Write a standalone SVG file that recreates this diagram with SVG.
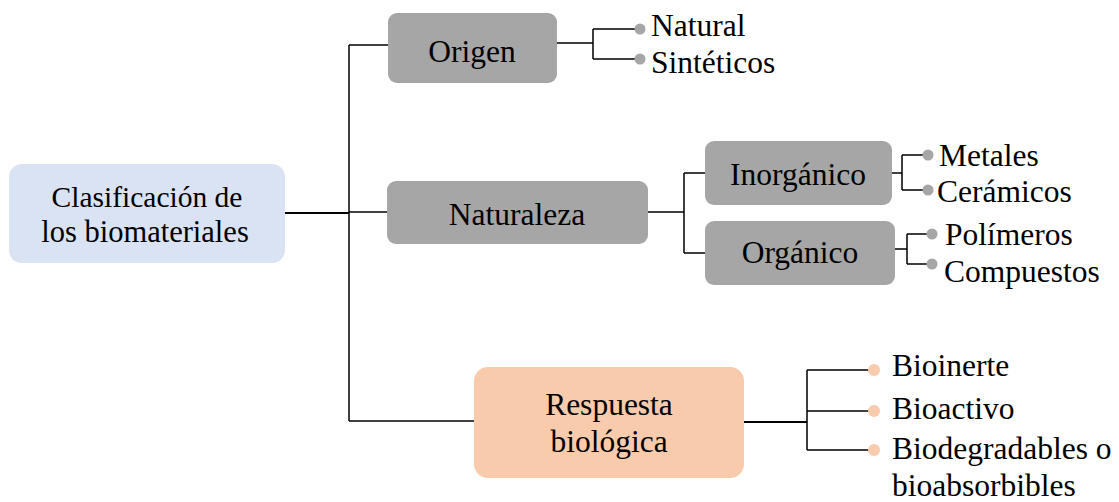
<svg xmlns="http://www.w3.org/2000/svg" width="1119" height="502" viewBox="0 0 1119 502">
<defs>
<style>
.c{text-anchor:middle}
.ln{fill:none;stroke:#000;stroke-width:1.5}
.th{stroke-width:2}
.gb{fill:#A6A6A6}
.gd{fill:#A6A6A6}
.od{fill:#F8CBAD}
</style>
</defs>
<rect width="1119" height="502" fill="#fff"/>
<g id="connectors">
<path class="ln" d="M349,45 V421"/>
<path class="ln th" d="M285,213 H349"/>
<path class="ln" d="M349,45 H388"/>
<path class="ln" d="M349,212 H387"/>
<path class="ln" d="M349,421 H474"/>
<path class="ln" d="M557,43 H593 M593,29 V59 M593,29 H640 M593,59 H640"/>
<path class="ln" d="M648,212 H684 M684,173 V253 M684,173 H705 M684,253 H705"/>
<path class="ln" d="M892,173 H902 M902,155 V190 M902,155 H928 M902,190 H928"/>
<path class="ln" d="M895,249 H907 M907,234 V264 M907,234 H932 M907,264 H932"/>
<path class="ln th" d="M744,422 H807"/>
<path class="ln" d="M807,370 V450 M807,370 H874 M807,411 H874 M807,450 H874"/>
</g>
<g id="root">
<rect x="9" y="164" width="276" height="99" rx="13" fill="#DAE3F3"/>
<text class="c" x="147" y="207" font-family="Liberation Serif" font-size="29.5">Clasificación de</text>
<text class="c" x="145" y="242" font-family="Liberation Serif" font-size="30.5">los biomateriales</text>
</g>
<g id="origen">
<rect class="gb" x="388" y="13" width="169" height="70" rx="9"/>
<text class="c" x="472" y="62" font-family="Liberation Serif" font-size="31.5">Origen</text>
</g>
<g id="natural">
<circle class="gd" cx="640" cy="29" r="5.5"/>
<text x="651" y="36" font-family="Liberation Serif" font-size="31.5">Natural</text>
</g>
<g id="sinteticos">
<circle class="gd" cx="640" cy="59" r="5.5"/>
<text x="651" y="73" font-family="Liberation Serif" font-size="31.5">Sintéticos</text>
</g>
<g id="naturaleza">
<rect class="gb" x="387" y="181" width="261" height="63" rx="9"/>
<text class="c" x="517" y="225" font-family="Liberation Serif" font-size="31.5">Naturaleza</text>
</g>
<g id="inorganico">
<rect class="gb" x="705" y="141" width="187" height="64" rx="9"/>
<text class="c" x="798" y="185" font-family="Liberation Serif" font-size="31.5">Inorgánico</text>
</g>
<g id="organico">
<rect class="gb" x="705" y="221" width="190" height="64" rx="9"/>
<text class="c" x="800" y="263" font-family="Liberation Serif" font-size="31.5">Orgánico</text>
</g>
<g id="metales">
<circle class="gd" cx="928" cy="155" r="5.5"/>
<text x="939" y="166" font-family="Liberation Serif" font-size="31.5">Metales</text>
</g>
<g id="ceramicos">
<circle class="gd" cx="928" cy="190" r="5.5"/>
<text x="937" y="202" font-family="Liberation Serif" font-size="31.5">Cerámicos</text>
</g>
<g id="polimeros">
<circle class="gd" cx="932" cy="234" r="5.5"/>
<text x="945" y="245" font-family="Liberation Serif" font-size="31.5">Polímeros</text>
</g>
<g id="compuestos">
<circle class="gd" cx="932" cy="264" r="5.5"/>
<text x="944" y="282" font-family="Liberation Serif" font-size="31.5">Compuestos</text>
</g>
<g id="respuesta">
<rect x="474" y="367" width="270" height="111" rx="14" fill="#F8CBAD"/>
<text class="c" x="609" y="415" font-family="Liberation Serif" font-size="31.5">Respuesta</text>
<text class="c" x="609" y="452" font-family="Liberation Serif" font-size="31.5">biológica</text>
</g>
<g id="bioinerte">
<circle class="od" cx="874" cy="370" r="6"/>
<text x="892" y="376" font-family="Liberation Serif" font-size="31.5">Bioinerte</text>
</g>
<g id="bioactivo">
<circle class="od" cx="874" cy="411" r="6"/>
<text x="892" y="419" font-family="Liberation Serif" font-size="31.5">Bioactivo</text>
</g>
<g id="biodegradables">
<circle class="od" cx="874" cy="450" r="6"/>
<text x="892" y="459" font-family="Liberation Serif" font-size="31.5">Biodegradables o</text>
<text x="892" y="496" font-family="Liberation Serif" font-size="31.5">bioabsorbibles</text>
</g>
</svg>
